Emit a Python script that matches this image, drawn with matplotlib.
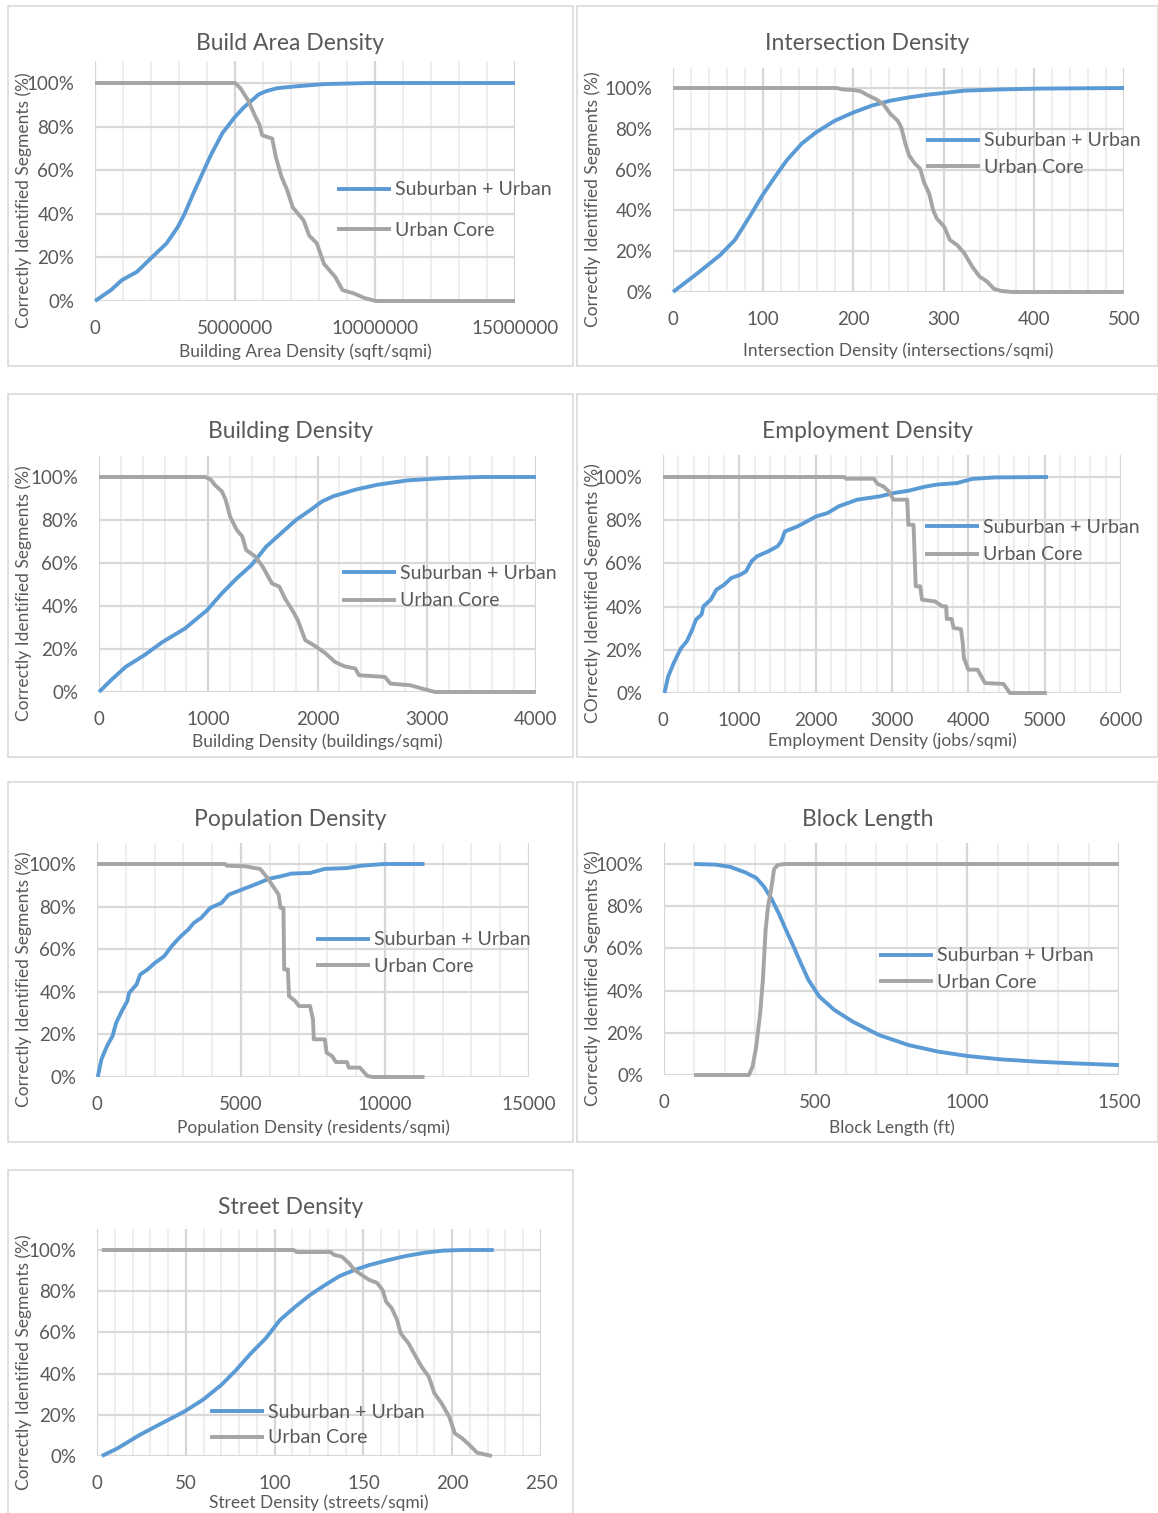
import matplotlib
matplotlib.use('Agg')
import matplotlib.pyplot as plt
from matplotlib.patches import Rectangle
from matplotlib.ticker import MultipleLocator, PercentFormatter, StrMethodFormatter

plt.rcParams.update({
    'font.family': ['Lato', 'DejaVu Sans'],
    'text.color': '#595959',
    'xtick.color': '#595959',
    'ytick.color': '#595959',
})

W, H = 1158, 1513          # canvas size in pixels (dpi=100)
BLUE = '#5B9BD5'
GRAY = '#A5A5A5'
LABEL_SUB = "Suburban + Urban"
LABEL_CORE = "Urban Core"

# ── Build area density (sqft/sqmi) ─────────────────────────────────────────
build_sub_x = [0, 0.57e6, 0.96e6, 1.5e6, 2.03e6, 2.56e6, 2.96e6, 3.2e6, 3.5e6,
               3.89e6, 4.14e6, 4.55e6, 5.0e6, 5.33e6, 5.6e6, 5.85e6, 6.1e6,
               6.5e6, 7.2e6, 8.2e6, 9.8e6, 15.0e6]
build_sub_y = [0, 5, 9.6, 13.4, 20, 26.5, 34, 40, 49, 60, 67, 77, 84.5, 89, 92,
               94.8, 96.2, 97.6, 98.5, 99.5, 100, 100]
build_core_x = [0, 5.0e6, 5.2e6, 5.47e6, 5.73e6, 5.87e6, 5.97e6, 6.33e6, 6.46e6,
                6.66e6, 6.86e6, 7.06e6, 7.45e6, 7.65e6, 7.92e6, 8.18e6, 8.58e6,
                8.84e6, 9.24e6, 9.64e6, 10.03e6, 15.0e6]
build_core_y = [100, 100, 97.5, 92, 84.5, 81, 76, 74.5, 66, 57, 51, 43, 37, 30,
                26.5, 17, 11, 5, 3.5, 1.3, 0, 0]

# ── Intersection density (intersections/sqmi) ──────────────────────────────
inter_sub_x = [0, 27.5, 52, 68.6, 85, 100, 114, 126, 142.6, 159, 179.5, 200,
               220.6, 241, 261.7, 282, 302.8, 323, 364, 405.5, 500]
inter_sub_y = [0, 9.3, 18, 25.5, 37, 48, 57, 64.5, 72.7, 78.4, 84, 88, 91.4,
               93.8, 95.4, 96.7, 97.7, 98.7, 99.3, 99.7, 100]
inter_core_x = [0, 181.6, 187.8, 200, 208, 216.5, 224.7, 233, 241, 249, 253,
                257.6, 261.7, 268, 274, 278, 284, 288.5, 292.5, 300.7, 307, 315,
                323, 331.6, 339.8, 348, 356, 364, 376.7, 500]
inter_core_y = [100, 100, 99.3, 99, 98.4, 96.3, 94.6, 92.2, 87.3, 84, 80.8,
                72.7, 67, 63, 60.5, 54, 48.3, 40, 36, 32, 25.5, 23, 19, 12.5,
                7.6, 5.2, 1.5, 0.5, 0, 0]

# ── Building density (buildings/sqmi) ──────────────────────────────────────
bldg_sub_x = [0, 108, 244, 414, 583, 786, 990, 1125, 1261, 1397, 1532, 1668,
              1803, 1939, 2041, 2142, 2346, 2549, 2820, 3159, 3498, 4000]
bldg_sub_y = [0, 5.4, 11.7, 17.1, 23.3, 29.5, 38.1, 45.9, 52.9, 59.1, 67.7,
              73.9, 80, 84.8, 88.6, 91, 94.1, 96.4, 98.4, 99.5, 100, 100]
bldg_core_x = [0, 973, 1024, 1058, 1125, 1159, 1200, 1261, 1312, 1346, 1431,
               1498, 1583, 1651, 1702, 1769, 1820, 1888, 1990, 2075, 2159, 2244,
               2346, 2380, 2617, 2668, 2854, 2956, 3075, 4000]
bldg_core_y = [100, 100, 98.8, 96.4, 93.3, 89.4, 81.6, 75.4, 72.3, 66.1, 63,
               58.3, 50.5, 49, 43.5, 38.1, 33.4, 24.1, 21, 17.9, 14, 12, 10.9,
               7.8, 7, 3.9, 3.1, 1.6, 0, 0]

# ── Employment density (jobs/sqmi) ─────────────────────────────────────────
emp_sub_x = [19, 68, 141, 204, 238, 311, 383, 432, 505, 529, 626, 699, 796,
             893, 1015, 1087, 1160, 1233, 1379, 1500, 1549, 1597, 1767, 1888,
             2010, 2155, 2301, 2544, 2835, 3029, 3223, 3417, 3587, 3854, 4049,
             4340, 5044]
emp_sub_y = [0, 7.7, 13.9, 18.5, 20.8, 23.9, 29.3, 34, 36.3, 40.1, 43.2, 47.8,
             50, 53.2, 54.8, 56.3, 61, 63.3, 65.6, 67.9, 70.2, 74.8, 77.2, 79.5,
             81.8, 83.3, 86.4, 89.5, 91, 92.6, 93.7, 95.4, 96.5, 97.2, 99.1,
             99.8, 100]
emp_core_x = [0, 2374, 2398, 2762, 2811, 2884, 2956, 3019, 3199, 3214, 3282,
              3311, 3369, 3393, 3563, 3660, 3709, 3718, 3782, 3806, 3903, 3927,
              3942, 4000, 4121, 4218, 4461, 4544, 5029]
emp_core_y = [100, 100, 99.2, 99.2, 96.8, 95.7, 93.4, 89.5, 89.5, 77.9, 77.9,
              49.4, 49.4, 43.2, 42.4, 40.1, 40.1, 34.3, 34.3, 30.1, 29.6, 23.1,
              16.2, 10.8, 10.8, 4.6, 4.2, 0, 0]

# ── Population density (residents/sqmi) ────────────────────────────────────
pop_sub_x = [26, 154, 346, 538, 667, 859, 1051, 1115, 1372, 1500, 1756, 2013,
             2333, 2590, 2910, 3167, 3359, 3615, 3936, 4321, 4577, 5090, 5474,
             5987, 6372, 6756, 7397, 7910, 8680, 9192, 9962, 11372]
pop_sub_y = [0, 8.3, 14.5, 19.2, 25.5, 30.9, 35.6, 39.5, 43.4, 48.1, 50.5,
             53.6, 56.7, 61.4, 66.1, 69.2, 72.3, 74.7, 79.4, 81.7, 85.6, 88.3,
             90.3, 93.1, 94.2, 95.5, 95.8, 97.7, 98.1, 99.2, 100, 100]
pop_core_x = [0, 4449, 4513, 5154, 5474, 5667, 5923, 6115, 6308, 6372, 6474,
              6500, 6628, 6667, 6885, 7013, 7397, 7500, 7526, 7910, 7974, 8167,
              8295, 8680, 8744, 9128, 9385, 9577, 11372]
pop_core_y = [100, 100, 99.2, 98.9, 98.1, 97.7, 93.4, 89.5, 85.6, 79.4, 79.4,
              50.5, 50.5, 38, 35.6, 33.3, 33.3, 27, 17.7, 17.7, 11.4, 9.8, 7, 7,
              4.4, 4.4, 0.5, 0, 0]

# ── Block length (ft) ──────────────────────────────────────────────────────
block_sub_x = [99, 170, 219, 268, 304, 329, 353, 378, 402, 427, 451, 476, 512,
               561, 622, 708, 806, 903, 1001, 1111, 1233, 1356, 1500]
block_sub_y = [100, 99.7, 98.6, 96, 93.4, 89.4, 83.9, 76.7, 68.8, 60.9, 53,
               45.1, 37.2, 30.9, 25.3, 19, 14.2, 11.1, 9, 7.4, 6.3, 5.5, 4.7]
block_core_x = [99, 280, 292, 304, 317, 326, 335, 343, 353, 363, 375, 396, 1500]
block_core_y = [0, 0, 4, 13.4, 29.3, 45.1, 68.8, 79.9, 87.8, 97.6, 99.5, 100, 100]

# ── Street density (streets/sqmi) ──────────────────────────────────────────
street_sub_x = [2.7, 11.5, 24, 36.5, 49, 59.5, 70, 78.3, 86.6, 95, 103, 111.7,
                120, 128.4, 136.7, 145, 153.4, 164, 174, 184.8, 195, 205.6, 223.4]
street_sub_y = [0, 3.7, 10.2, 15.9, 21.5, 27.2, 34.5, 41.7, 49.8, 57.1, 66,
                72.5, 78.2, 83, 87.4, 90.3, 92.7, 95.1, 97.1, 98.7, 99.7, 100, 100]
street_core_x = [2.7, 110.6, 112.7, 131.5, 133.6, 137.8, 142, 145, 149, 153.4,
                 157.6, 160.8, 162.8, 166, 169, 171, 175.4, 178.5, 182.7, 186.8,
                 190, 194, 198.3, 201.5, 205.6, 209.8, 214, 222.3]
street_core_y = [100, 100, 99, 99, 97.6, 96.8, 93.5, 90.3, 87.9, 85.4, 84.1,
                 80.6, 74.9, 71.7, 66, 59.5, 54.7, 49.8, 43.4, 38.5, 30.4, 25.6,
                 19.1, 11, 8.6, 5.3, 1.6, 0]

YLAB = "Correctly Identified Segments (%)"

# layout in pixels: box = panel frame (l, t, r, b); plot = (x left, x right, y of 0%, y of 100%)
panels = [
    dict(title="Build Area Density", xlabel="Building Area Density (sqft/sqmi)",
         ylabel=YLAB, xmax=15e6, major=5e6, minor=1e6,
         sub=(build_sub_x, build_sub_y), core=(build_core_x, build_core_y),
         box=(8, 6, 573, 366), plot=(95, 515, 301, 83), xlab_y=352,
         leg=(337, 210), legspace=1.2),
    dict(title="Intersection Density",
         xlabel="Intersection Density (intersections/sqmi)",
         ylabel=YLAB, xmax=500, major=100, minor=20,
         sub=(inter_sub_x, inter_sub_y), core=(inter_core_x, inter_core_y),
         box=(577, 6, 1158, 366), plot=(673, 1124, 292, 88), xlab_y=351,
         leg=(926, 154), legspace=0.48),
    dict(title="Building Density", xlabel="Building Density (buildings/sqmi)",
         ylabel=YLAB, xmax=4000, major=1000, minor=200,
         sub=(bldg_sub_x, bldg_sub_y), core=(bldg_core_x, bldg_core_y),
         box=(8, 394, 573, 757), plot=(99, 536, 692, 477), xlab_y=742,
         leg=(342, 587), legspace=0.55),
    dict(title="Employment Density", xlabel="Employment Density (jobs/sqmi)",
         ylabel="COrrectly Identified Segments (%)", xmax=6000, major=1000,
         minor=200,
         sub=(emp_sub_x, emp_sub_y), core=(emp_core_x, emp_core_y),
         box=(577, 394, 1158, 757), plot=(663, 1121, 693, 477), xlab_y=741,
         leg=(925, 541), legspace=0.55),
    dict(title="Population Density",
         xlabel="Population Density (residents/sqmi)",
         ylabel=YLAB, xmax=15000, major=5000, minor=1000,
         sub=(pop_sub_x, pop_sub_y), core=(pop_core_x, pop_core_y),
         box=(8, 782, 573, 1142), plot=(97, 529, 1077, 864), xlab_y=1128,
         leg=(316, 953), legspace=0.48),
    dict(title="Block Length", xlabel="Block Length (ft)",
         ylabel=YLAB, xmax=1500, major=500, minor=100,
         sub=(block_sub_x, block_sub_y), core=(block_core_x, block_core_y),
         box=(577, 782, 1158, 1142), plot=(664, 1119, 1075, 864), xlab_y=1128,
         leg=(879, 969), legspace=0.48),
    dict(title="Street Density", xlabel="Street Density (streets/sqmi)",
         ylabel=YLAB, xmax=250, major=50, minor=10,
         sub=(street_sub_x, street_sub_y), core=(street_core_x, street_core_y),
         box=(8, 1170, 573, 1525), plot=(97, 541, 1456, 1250), xlab_y=1503,
         leg=(210, 1425), legspace=0.45),
]


def fx(x):
    return x / W


def fy(y):
    return 1 - y / H


fig = plt.figure(figsize=(W / 100, H / 100), dpi=100)

for p in panels:
    l, t, r, b = p['box']
    fig.patches.append(Rectangle((fx(l), fy(b)), fx(r - l), (b - t) / H,
                                 transform=fig.transFigure, fill=False,
                                 edgecolor='#D9D9D9', linewidth=1.2))

    x0, x1, y0, y100 = p['plot']
    ytop = y0 - 1.1 * (y0 - y100)
    ax = fig.add_axes([fx(x0), fy(y0), fx(x1 - x0), (y0 - ytop) / H])
    ax.set_xlim(0, p['xmax'])
    ax.set_ylim(0, 110)
    ax.xaxis.set_major_locator(MultipleLocator(p['major']))
    ax.xaxis.set_minor_locator(MultipleLocator(p['minor']))
    ax.xaxis.set_major_formatter(StrMethodFormatter('{x:.0f}'))
    ax.set_yticks(range(0, 101, 20))
    ax.yaxis.set_major_formatter(PercentFormatter(decimals=0))
    ax.tick_params(which='both', length=0, labelsize=13.5)
    ax.tick_params(axis='x', pad=14)
    ax.tick_params(axis='y', pad=15)
    ax.grid(axis='x', which='minor', color='#EDEDED', linewidth=1.3)
    ax.grid(axis='x', which='major', color='#D6D6D6', linewidth=1.6)
    ax.grid(axis='y', which='major', color='#D9D9D9', linewidth=1.6)
    ax.set_axisbelow(True)
    for s in ax.spines.values():
        s.set_visible(False)

    ax.plot(*p['sub'], color=BLUE, linewidth=2.8, label=LABEL_SUB,
            solid_capstyle='butt', solid_joinstyle='round', clip_on=False)
    ax.plot(*p['core'], color=GRAY, linewidth=2.8, label=LABEL_CORE,
            solid_capstyle='butt', solid_joinstyle='round', clip_on=False)

    lx, ly = p['leg']
    ax.legend(loc='center left', bbox_to_anchor=(fx(lx), fy(ly)),
              bbox_transform=fig.transFigure, frameon=False, fontsize=14,
              handlelength=2.8, handletextpad=0.2, borderpad=0,
              borderaxespad=0, labelspacing=p['legspace'],
              labelcolor='#595959')

    fig.text(fx((l + r) / 2), fy(t + 37), p['title'], fontsize=16.5,
             ha='center', va='center')
    fig.text(fx((x0 + x1) / 2), fy(p['xlab_y']), p['xlabel'], fontsize=12.5,
             ha='center', va='center')
    fig.text(fx(l + 16), fy((ytop + y0 + 38) / 2), p['ylabel'], fontsize=12.5,
             rotation=90, ha='center', va='center')

fig.savefig("out.png", dpi=100)
